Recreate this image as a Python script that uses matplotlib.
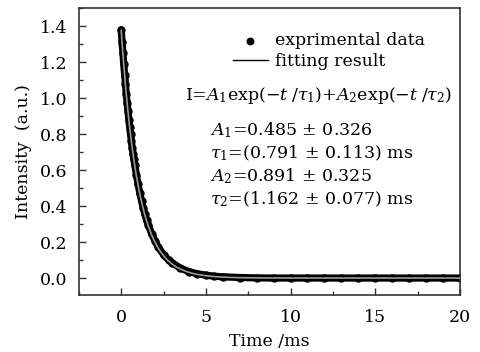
import numpy as np
import matplotlib
matplotlib.use("Agg")
import matplotlib.pyplot as plt
from matplotlib.ticker import MultipleLocator

plt.rcParams['font.family'] = ['DejaVu Serif']
plt.rcParams['mathtext.fontset'] = 'dejavuserif'

t_exp = [0.0, 0.05, 0.1, 0.15, 0.2, 0.25, 0.3, 0.35, 0.4, 0.45, 0.5, 0.55, 0.6,
         0.65, 0.7, 0.75, 0.8, 0.9, 1.0, 1.1, 1.2, 1.3, 1.4, 1.5, 1.6, 1.8, 2.0,
         2.2, 2.5, 2.8, 3.0, 3.5, 4.0, 4.5, 5.0, 5.5, 6.0, 7.0, 8.0, 9.0, 10.0,
         11.0, 12.0, 13.0, 14.0, 15.0, 16.0, 17.0, 18.0, 19.0, 20.0]
I_exp = [1.38, 1.31, 1.25, 1.19, 1.13, 1.08, 1.02, 0.97, 0.93, 0.88, 0.84, 0.80, 0.76,
         0.72, 0.69, 0.66, 0.63, 0.57, 0.52, 0.47, 0.43, 0.39, 0.355, 0.32, 0.295, 0.245, 0.205,
         0.17, 0.13, 0.10, 0.085, 0.055, 0.036, 0.024, 0.016, 0.010, 0.007, 0.003, 0.001, 0.0, 0.0,
         0.0, 0.0, 0.0, 0.0, 0.0, 0.0, 0.0, 0.0, 0.0, 0.0]

# fitted parameters shown on the chart
A1, tau1 = 0.485, 0.791
A2, tau2 = 0.891, 1.162
t_fit = np.linspace(0, 20, 801)
I_fit = A1 * np.exp(-t_fit / tau1) + A2 * np.exp(-t_fit / tau2)

fig = plt.figure(figsize=(4.81, 3.52), dpi=100)
ax = fig.add_axes([0.164, 0.162, 0.792, 0.815])

ax.plot(t_exp, I_exp, color='black', lw=5.2, solid_capstyle='round',
        solid_joinstyle='round', zorder=2)
ax.plot(t_exp, I_exp, 'o', color='black', ms=5, zorder=2)
ax.plot(t_fit, I_fit, color='#9a9a9a', lw=1.2, zorder=3)

h1 = ax.scatter([], [], s=22, color='black')
h2, = ax.plot([], [], color='black', lw=1)
ax.legend([h1, h2], ['exprimental data', 'fitting result'], frameon=False,
          loc='upper left', bbox_to_anchor=(0.404, 0.915), fontsize=12.5,
          borderaxespad=0, borderpad=0, handlelength=2.0, labelspacing=0.2,
          handletextpad=0.45)

fs = 12.5
ax.text(0.278, 0.697, r'$\mathrm{I}$=$A_1$exp($-t\;/\tau_1$)+$A_2$exp($-t\;/\tau_2$)',
        transform=ax.transAxes, fontsize=fs, va='center')
ax.text(0.344, 0.575, r'$A_1$=0.485 $\pm$ 0.326', transform=ax.transAxes, fontsize=fs, va='center')
ax.text(0.344, 0.495, r'$\tau_1$=(0.791 $\pm$ 0.113) ms', transform=ax.transAxes, fontsize=fs, va='center')
ax.text(0.344, 0.415, r'$A_2$=0.891 $\pm$ 0.325', transform=ax.transAxes, fontsize=fs, va='center')
ax.text(0.344, 0.334, r'$\tau_2$=(1.162 $\pm$ 0.077) ms', transform=ax.transAxes, fontsize=fs, va='center')

ax.set_xlim(-2.5, 20)
ax.set_ylim(-0.094, 1.5)
ax.xaxis.set_major_locator(MultipleLocator(5))
ax.xaxis.set_minor_locator(MultipleLocator(2.5))
ax.yaxis.set_major_locator(MultipleLocator(0.2))
ax.yaxis.set_minor_locator(MultipleLocator(0.1))
ax.yaxis.set_major_formatter(plt.FormatStrFormatter('%.1f'))
ax.tick_params(which='both', direction='in', labelsize=12.5, width=1, color='#333333')
ax.tick_params(axis='y', pad=8)
ax.tick_params(axis='x', pad=10)
ax.tick_params(which='major', length=5)
ax.tick_params(which='minor', length=3)
for s in ax.spines.values():
    s.set_color('#333333')
    s.set_linewidth(1.2)

ax.set_xlabel('Time /ms', fontsize=12.5, labelpad=5)
ax.set_ylabel('Intensity  (a.u.)', fontsize=12.5, labelpad=6)

fig.savefig('out.png', dpi=100)
